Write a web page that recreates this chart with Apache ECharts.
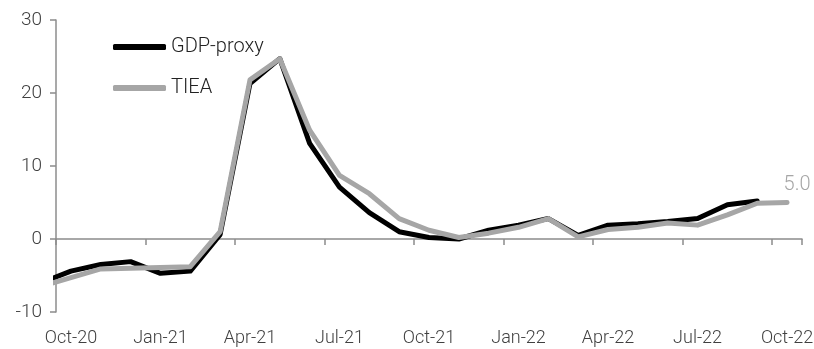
<!DOCTYPE html>
<html>
<head>
<meta charset="utf-8">
<script src="https://cdn.jsdelivr.net/npm/echarts@6/dist/echarts.min.js"></script>
<style>
  html, body { margin: 0; padding: 0; background: #fff; }
  #chart { width: 814px; height: 349px; }
</style>
</head>
<body>
<div id="chart"></div>
<script>
// Monthly year-on-year growth, %. Readings are dated mid-month;
// the first reading (Sep-20) sits just left of the plot and is clipped.
const months = ['Sep-20', 'Oct-20', 'Nov-20', 'Dec-20', 'Jan-21', 'Feb-21', 'Mar-21', 'Apr-21',
  'May-21', 'Jun-21', 'Jul-21', 'Aug-21', 'Sep-21', 'Oct-21', 'Nov-21', 'Dec-21', 'Jan-22',
  'Feb-22', 'Mar-22', 'Apr-22', 'May-22', 'Jun-22', 'Jul-22', 'Aug-22', 'Sep-22', 'Oct-22'];

const gdpProxy = [-6.0, -4.4, -3.5, -3.1, -4.7, -4.4, 0.6, 21.3, 24.7, 13.1, 7.1, 3.6, 1.0,
  0.2, 0.0, 1.2, 1.9, 2.8, 0.5, 1.9, 2.1, 2.4, 2.8, 4.7, 5.2, null];

const tiea = [-6.5, -5.3, -4.1, -4.0, -3.9, -3.8, 1.0, 21.8, 24.7, 14.9, 8.7, 6.2, 2.8,
  1.2, 0.2, 0.8, 1.6, 2.8, 0.3, 1.3, 1.6, 2.2, 1.9, 3.3, 4.9, 5.0];

// Axis months shown along the bottom (Oct-20 .. Oct-22), labelled quarterly
const axisMonths = months.slice(1);
const yTicks = { min: -10, max: 30, step: 10 };

const FONT = "Roboto, 'Liberation Sans', Arial, sans-serif";
const AXIS_GREY = '#8c8c8c';
const TEXT = '#404040';
const GREY_LINE = '#a6a6a6';

// position of each month on the continuous x scale: Oct-20 occupies [0,1)
const xOf = i => i - 1 + 0.5;

const toPoints = arr => arr.map((v, i) => [xOf(i), v]);

// latest TIEA reading carries its value as a label
const tieaPoints = toPoints(tiea).map((p, i, all) => {
  if (i === all.length - 1) {
    return {
      value: p,
      symbol: 'circle',
      symbolSize: 3,
      itemStyle: { color: GREY_LINE },
      label: {
        show: true,
        position: 'top',
        distance: 4,
        offset: [10, -2],
        formatter: d => d.value[1].toFixed(1),
        color: GREY_LINE,
        fontSize: 20,
        fontWeight: 300,
        fontFamily: FONT
      }
    };
  }
  return p;
});

const chart = echarts.init(document.getElementById('chart'), null, { renderer: 'canvas' });

chart.setOption({
  animation: false,
  backgroundColor: '#ffffff',
  grid: { left: 56, right: 12, top: 20, bottom: 37, containLabel: false, outerBoundsMode: 'none' },
  legend: {
    orient: 'vertical',
    left: 108,
    top: 31,
    itemWidth: 53,
    itemHeight: 6,
    itemGap: 19,
    icon: 'roundRect',
    data: ['GDP-proxy', 'TIEA'],
    textStyle: { fontSize: 20, fontWeight: 300, color: '#222222', fontFamily: FONT, lineHeight: 22 }
  },
  xAxis: [
    {
      // continuous month scale carrying the series
      type: 'value',
      position: 'top',
      min: 0,
      max: axisMonths.length,
      axisLine: { show: false, onZero: false },
      show: false
    },
    {
      // axis line at zero with quarter ticks; month labels along the bottom edge
      type: 'category',
      position: 'bottom',
      data: axisMonths,
      boundaryGap: true,
      axisLine: { show: true, onZero: true, onZeroAxisIndex: 0, lineStyle: { color: AXIS_GREY, width: 1.5 } },
      axisTick: { show: true, interval: 2, length: 6, inside: false, lineStyle: { color: AXIS_GREY, width: 1.5 } },
      axisLabel: {
        show: true,
        interval: 2,
        margin: 17,
        fontSize: 18,
        fontWeight: 300,
        color: TEXT,
        fontFamily: FONT
      },
      splitLine: { show: false }
    }
  ],
  yAxis: {
    type: 'value',
    min: yTicks.min,
    max: yTicks.max,
    interval: yTicks.step,
    axisLine: { show: true, lineStyle: { color: AXIS_GREY, width: 1.5 } },
    axisTick: { show: true, length: 6, lineStyle: { color: AXIS_GREY, width: 1.5 } },
    axisLabel: { fontSize: 19, fontWeight: 300, color: TEXT, fontFamily: FONT, margin: 14 },
    splitLine: { show: false }
  },
  series: [
    {
      name: 'GDP-proxy',
      type: 'line',
      xAxisIndex: 0,
      data: toPoints(gdpProxy),
      symbol: 'none',
      clip: true,
      color: '#000000',
      lineStyle: { color: '#000000', width: 5, cap: 'round', join: 'round' },
      z: 2
    },
    {
      name: 'TIEA',
      type: 'line',
      xAxisIndex: 0,
      data: tieaPoints,
      symbol: 'none',
      clip: true,
      color: GREY_LINE,
      lineStyle: { color: GREY_LINE, width: 5, cap: 'round', join: 'round' },
      z: 3
    }
  ]
});
</script>
</body>
</html>
